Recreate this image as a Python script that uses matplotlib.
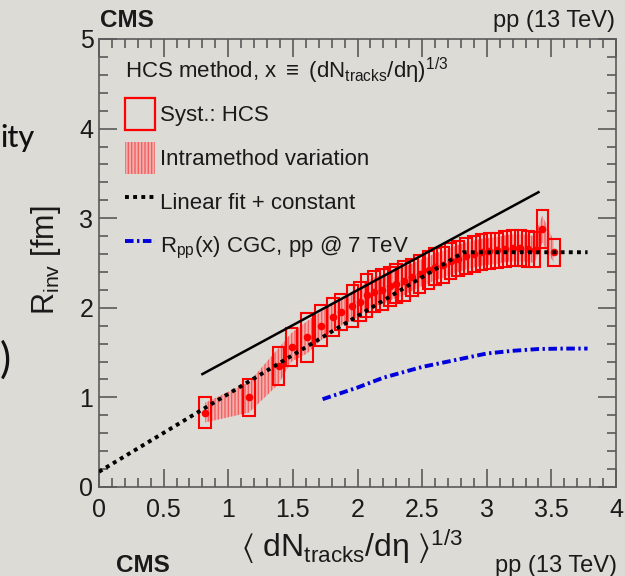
import matplotlib
matplotlib.use("Agg")
import matplotlib.pyplot as plt
import numpy as np
from matplotlib.patches import Patch
from matplotlib.lines import Line2D
from matplotlib.ticker import FixedLocator, MultipleLocator

# ---------------- data ----------------
x_pts = [0.82, 1.16, 1.39, 1.49, 1.61, 1.72, 1.81, 1.87, 1.96, 2.02, 2.07, 2.13,
         2.19, 2.25, 2.30, 2.36, 2.42, 2.48, 2.55, 2.60, 2.66, 2.72, 2.78, 2.84,
         2.90, 2.96, 3.02, 3.08, 3.14, 3.20, 3.26, 3.32, 3.37, 3.43, 3.52]
r_inv = [0.83, 1.00, 1.35, 1.56, 1.67, 1.80, 1.90, 1.95, 2.02, 2.07, 2.14, 2.18,
         2.20, 2.24, 2.27, 2.30, 2.34, 2.38, 2.42, 2.46, 2.48, 2.52, 2.55, 2.58,
         2.60, 2.62, 2.63, 2.64, 2.66, 2.67, 2.67, 2.66, 2.65, 2.88, 2.62]
syst_err = [0.17, 0.21, 0.21, 0.21, 0.27, 0.23, 0.21, 0.20, 0.23, 0.22, 0.24, 0.23,
            0.23, 0.22, 0.22, 0.22, 0.21, 0.21, 0.21, 0.21, 0.20, 0.20, 0.20, 0.20,
            0.20, 0.20, 0.20, 0.20, 0.20, 0.20, 0.20, 0.20, 0.20, 0.21, 0.15]
intra_err = [0.11, 0.17, 0.20, 0.16, 0.18, 0.16, 0.15, 0.15, 0.16, 0.16, 0.16, 0.16,
             0.16, 0.16, 0.16, 0.16, 0.15, 0.15, 0.15, 0.15, 0.15, 0.15, 0.15, 0.15,
             0.15, 0.15, 0.15, 0.15, 0.15, 0.15, 0.15, 0.15, 0.15, 0.15, 0.12]

fit_x = [0.0, 2.82, 3.78]
fit_y = [0.17, 2.62, 2.62]

line_x = [0.80, 3.40]
line_y = [1.26, 3.29]

cgc_x = [1.73, 2.0, 2.2, 2.5, 2.8, 3.0, 3.2, 3.4, 3.6, 3.78]
cgc_y = [0.98, 1.11, 1.22, 1.34, 1.43, 1.49, 1.52, 1.54, 1.545, 1.545]

xticks = [0, 0.5, 1, 1.5, 2, 2.5, 3, 3.5, 4]
xtick_labels = ["0", "0.5", "1", "1.5", "2", "2.5", "3", "3.5", "4"]
yticks = [0, 1, 2, 3, 4, 5]
ytick_labels = ["0", "1", "2", "3", "4", "5"]

legend_labels = ["Syst.: HCS", "Intramethod variation", "Linear fit + constant",
                 r"R$_{\rm pp}$(x) CGC, pp @ 7 TeV"]
legend_title = r"HCS method, x $\equiv$ (dN$_{\rm tracks}$/d$\eta$)$^{1/3}$"

# ---------------- style ----------------
plt.rcParams["font.family"] = ["Liberation Sans", "DejaVu Sans"]
plt.rcParams["mathtext.fontset"] = "custom"
plt.rcParams["mathtext.rm"] = "Liberation Sans"
plt.rcParams["mathtext.it"] = "Liberation Sans:italic"
plt.rcParams["mathtext.bf"] = "Liberation Sans:bold"
plt.rcParams["mathtext.default"] = "rm"
plt.rcParams["mathtext.fallback"] = "stixsans"
plt.rcParams["hatch.linewidth"] = 1.0

bg = "#dcdbd6"
red = "#ff0000"
pink = "#f3b0ae"
hatch_red = "#f26060"
blue = "#0000dd"
axis_col = "#5a5a5a"
txt = "#1a1a1a"

fig = plt.figure(figsize=(6.25, 5.76), dpi=100)
fig.patch.set_facecolor(bg)
ax = fig.add_axes([99 / 625, 1 - 487 / 576, 517 / 625, 448 / 576])
ax.set_facecolor(bg)
ax.set_xlim(0, 4)
ax.set_ylim(0, 5)

x_arr = np.array(x_pts)
y_arr = np.array(r_inv)
s_arr = np.array(syst_err)
i_arr = np.array(intra_err)

# intramethod band
ax.fill_between(x_arr, y_arr - i_arr, y_arr + i_arr, facecolor=pink,
                edgecolor=hatch_red, hatch="|||||", linewidth=0, zorder=2)
# systematic boxes
ax.bar(x_arr, 2 * s_arr, bottom=y_arr - s_arr, width=0.09, fill=False,
       edgecolor=red, linewidth=1.5, zorder=3)
# points
ax.plot(x_arr, y_arr, "o", color=red, ms=4.5, zorder=4)

fit_ls = (0, (1, 1.1))
cgc_ls = (0, (2.2, 0.9, 0.6, 0.9))
ax.plot(fit_x, fit_y, color="black", ls=fit_ls, lw=2.8, zorder=5)
ax.plot(line_x, line_y, color="black", lw=1.8, zorder=6)
ax.plot(cgc_x, cgc_y, color=blue, ls=cgc_ls, lw=2.8, zorder=5)

# ticks
ax.xaxis.set_major_locator(FixedLocator(xticks))
ax.set_xticklabels(xtick_labels)
ax.yaxis.set_major_locator(FixedLocator(yticks))
ax.set_yticklabels(ytick_labels)
ax.xaxis.set_minor_locator(MultipleLocator(0.1))
ax.yaxis.set_minor_locator(MultipleLocator(0.2))
ax.tick_params(which="both", direction="in", top=True, right=True, color=axis_col,
               width=1.2, labelcolor=txt)
ax.tick_params(which="major", length=13, labelsize=18)
ax.tick_params(which="minor", length=6.5)
ax.tick_params(axis="x", which="major", pad=8)
ax.tick_params(axis="y", which="major", pad=4)
for sp in ax.spines.values():
    sp.set_color(axis_col)
    sp.set_linewidth(1.2)

# legend
h_syst = Patch(facecolor="none", edgecolor=red, linewidth=1.6)
h_intra = Patch(facecolor=pink, edgecolor=hatch_red, hatch="|||||", linewidth=0)
h_fit = Line2D([], [], color="black", ls=fit_ls, lw=2.8)
h_cgc = Line2D([], [], color=blue, ls=cgc_ls, lw=2.8)
leg = ax.legend([h_syst, h_intra, h_fit, h_cgc], legend_labels, title=legend_title,
                loc="upper left", bbox_to_anchor=(0.05, 0.962), frameon=False,
                fontsize=16, title_fontsize=16, handlelength=1.35, handleheight=1.8,
                handletextpad=0.25, labelspacing=0.55, borderpad=0, borderaxespad=0,
                alignment="left")
for t in leg.get_texts():
    t.set_color(txt)
leg.get_title().set_color(txt)

# axis titles
fig.text(352 / 625, 1 - 557 / 576,
         r"$\langle$ dN$_{\rm tracks}$/d$\eta$ $\rangle^{1/3}$",
         fontsize=23, ha="center", va="baseline", color=txt)
fig.text(46 / 625, 1 - 260 / 576, r"R$_{\rm inv}$ [fm]", fontsize=22, rotation=90,
         ha="center", va="center", color=txt)

# header / footer texts
fig.text(100 / 625, 1 - 27 / 576, "CMS", fontsize=17.5, fontweight="bold",
         ha="left", va="baseline", color=txt)
fig.text(615 / 625, 1 - 27 / 576, "pp (13 TeV)", fontsize=17, ha="right",
         va="baseline", color=txt)
fig.text(116 / 625, 1 - 572 / 576, "CMS", fontsize=17.5, fontweight="bold",
         ha="left", va="baseline", color=txt)
fig.text(617 / 625, 1 - 572 / 576, "pp (13 TeV)", fontsize=17, ha="right",
         va="baseline", color=txt)

# slide remnants at left edge
fig.text(0 / 625, 1 - 147 / 576, "ity", fontsize=22, family=["Lato", "DejaVu Sans"],
         fontweight="medium", ha="left", va="baseline", color="#111111")
fig.text(0 / 625, 1 - 360 / 576, ")", fontsize=30, family=["Lato", "DejaVu Sans"],
         ha="left", va="center", color="#111111")

fig.savefig("out.png", dpi=100, facecolor=bg)
